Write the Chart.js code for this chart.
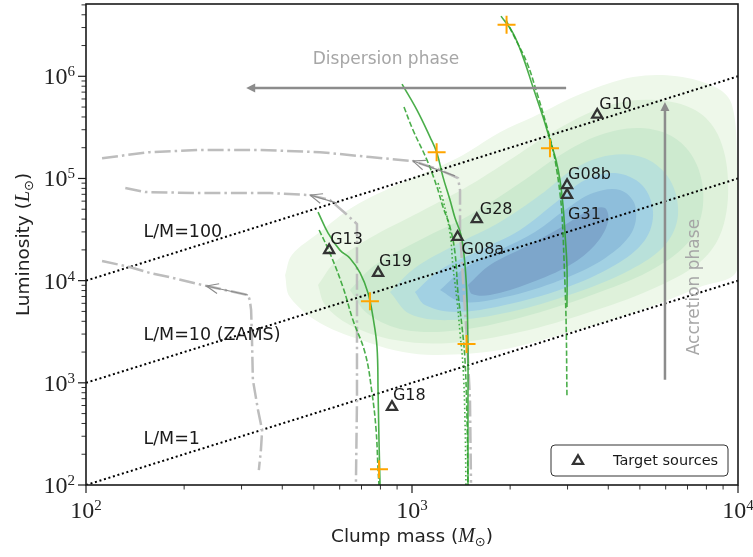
<!DOCTYPE html>
<html>
<head>
<meta charset="utf-8">
<script src="https://cdn.jsdelivr.net/npm/chart.js@4.4.1/dist/chart.umd.min.js"></script>
<style>html,body{margin:0;padding:0;background:#fff;}</style>
</head>
<body>
<canvas id="myChart" width="753" height="557"></canvas>
<script>
// target sources
const sourceNames = ['G10', 'G08b', 'G31', 'G28', 'G08a', 'G13', 'G19', 'G18'];
const sourceMass = [3700, 2990, 2990, 1580, 1380, 557, 787, 868];
const sourceLum = [4.2e5, 8.6e4, 6.9e4, 4.0e4, 2.67e4, 1.99e4, 1.19e4, 580];

// orange crosses on the tracks
const crossMass = [1190, 1950, 2650, 743, 1470, 792];
const crossLum = [1.81e5, 3.2e6, 1.98e5, 6.3e3, 2.4e3, 143];

// L/M = const lines
const lmRatios = [100, 10, 1];
const lmMass = [100, 10000];
const lmText = ['L/M=100', 'L/M=10 (ZAMS)', 'L/M=1'];
const lmTextMass = [150, 150, 150];
const lmTextLum = [2.99e4, 2.94e3, 282];

// green evolutionary tracks [mass, lum]
const track1Solid = [[515,4.69e4],[553,2.92e4],[601,1.99e4],[645,1.66e4],[693,1.19e4],[733,7.56e3],[759,4.41e3],[781,2.24e3],[787,795],[792,276],[798,100]];
const track1Dash = [[519,3.13e4],[560,1.86e4],[614,8.65e3],[659,4.11e3],[718,1.96e3],[754,795],[776,345],[787,140],[792,100]];
const track2Solid = [[932,8.39e5],[1036,4.67e5],[1136,2.54e5],[1193,1.77e5],[1245,1.03e5],[1308,6.15e4],[1355,4.1e4],[1414,2.79e4],[1454,1.42e4],[1475,6.46e3],[1485,2.09e3],[1485,679],[1485,100]];
const track2Dash = [[945,5.0e5],[1007,2.98e5],[1112,1.51e5],[1193,8.24e4],[1245,5.25e4],[1308,3.34e4],[1355,1.86e4],[1384,7.56e3],[1424,3.52e3],[1454,1.67e3],[1475,432],[1485,100]];
const track2Dot = [[1202,9.01e4],[1245,6.15e4],[1308,2.92e4],[1336,1.36e4],[1374,6.46e3],[1404,3.07e3],[1434,1.43e3],[1454,432],[1464,100]];
const track3Solid = [[1875,3.88e6],[2041,2.65e6],[2191,1.54e6],[2350,7.84e5],[2523,3.99e5],[2650,2.38e5],[2766,1.51e5],[2844,9.65e4],[2905,5.49e4],[2946,2.92e4],[2988,1.36e4],[2988,5.52e3]];
const track3Dash = [[1943,3.55e6],[2070,2.36e6],[2254,1.35e6],[2417,6.85e5],[2595,3.19e5],[2707,1.9e5],[2785,1.16e5],[2844,7.19e4],[2885,4.39e4],[2927,1.59e4],[2969,4.11e3],[2988,726]];

// grey dash-dot tracks
const greyTrackA = [[112,1.58e5],[157,1.81e5],[224,1.9e5],[342,1.9e5],[522,1.81e5],[743,1.62e5],[1007,1.48e5],[1219,1.21e5],[1384,1.01e5],[1404,7.7e4],[1404,3.13e4],[1434,1.01e4],[1475,2.62e3],[1506,679],[1517,105]];
const greyTrackB = [[132,8.05e4],[152,7.36e4],[224,7.19e4],[367,7.19e4],[487,6.88e4],[560,6.15e4],[623,4.59e4],[678,3.58e4],[678,6.46e3],[678,679],[673,105]];
const greyTrackC = [[112,1.56e4],[136,1.36e4],[157,1.19e4],[181,1.08e4],[235,8.85e3],[314,7.23e3],[318,6.46e3],[321,5.15e3],[323,2.62e3],[325,1.07e3],[337,542],[347,345],[344,220],[339,140]];
const greyArrows = [[[1355,1.06e5],[1007,1.48e5]], [[589,5.74e4],[487,6.88e4]], [[314,7.23e3],[234,8.85e3]]];

// KDE density contours, outer to inner
const kdeLevel1 = [[408,1.13e4],[428,1.78e4],[522,2.99e4],[659,5.25e4],[939,9.22e4],[1374,1.58e5],[1862,2.84e5],[2350,3.99e5],[3346,6.85e5],[4764,9.82e5],[6501,1.0e6],[8623,7.67e5],[9585,5.23e5],[9929,1.51e5],[9929,1.27e4],[7647,8.65e3],[4764,4.82e3],[2988,3.07e3],[1862,2.09e3],[1193,1.87e3],[939,2.0e3],[743,2.45e3],[522,3.85e3],[422,6.91e3]];
const kdeLevel2 = [[515,9.06e3],[581,1.52e4],[743,2.61e4],[1058,4.69e4],[1506,8.62e4],[2145,1.77e5],[2946,3.33e5],[4050,5.23e5],[5565,5.85e5],[7383,4.67e5],[8684,2.66e5],[9318,9.65e4],[8932,3.13e4],[7647,1.52e4],[5372,8.09e3],[3516,4.93e3],[2145,3.14e3],[1308,2.45e3],[887,2.62e3],[645,3.68e3],[541,5.77e3]];
const kdeLevel3 = [[645,8.09e3],[770,1.42e4],[1058,2.5e4],[1506,4.39e4],[2145,9.01e4],[2844,1.69e5],[3773,2.66e5],[5005,3.11e5],[6409,2.48e5],[7487,1.35e5],[7811,5.49e4],[7127,2.5e4],[5565,1.33e4],[3773,7.73e3],[2301,4.61e3],[1404,3.29e3],[952,3.29e3],[733,4.71e3]];
const kdeLevel4 = [[856,7.73e3],[1021,1.33e4],[1355,2.23e4],[1862,3.74e4],[2470,6.88e4],[3162,1.26e5],[4050,1.69e5],[5185,1.58e5],[6187,9.65e4],[6546,4.39e4],[5972,2.23e4],[4664,1.27e4],[3162,7.56e3],[1998,4.93e3],[1308,4.11e3],[986,4.71e3]];
const kdeLevel5 = [[1021,7.73e3],[1219,1.27e4],[1617,1.99e4],[2145,3.13e4],[2746,5.74e4],[3394,9.65e4],[4196,1.13e5],[5076,8.62e4],[5487,4.69e4],[5185,2.5e4],[4196,1.42e4],[2946,8.47e3],[1929,5.77e3],[1355,4.93e3],[1096,5.77e3]];
const kdeLevel6 = [[1219,8.09e3],[1454,1.33e4],[1862,1.99e4],[2384,2.99e4],[2946,4.91e4],[3591,7.19e4],[4345,7.7e4],[4831,5.49e4],[4730,2.99e4],[3909,1.66e4],[2844,1.01e4],[1929,6.91e3],[1424,6.18e3]];
const kdeLevel7 = [[1485,9.06e3],[1735,1.42e4],[2222,2.13e4],[2844,3.27e4],[3516,4.91e4],[3909,5.13e4],[3993,3.74e4],[3642,2.23e4],[3052,1.42e4],[2301,9.48e3],[1735,7.23e3],[1528,7.39e3]];
const kdeLevels = [kdeLevel1, kdeLevel2, kdeLevel3, kdeLevel4, kdeLevel5, kdeLevel6, kdeLevel7];
const kdeColors = ['#eef8ea', '#def1da', '#cdeacf', '#b9e1da', '#a2d1e3', '#8ebedb', '#7da6cb'];

// phase arrows and labels
const dispersionArrow = [[2970, 7.67e5], [310, 7.67e5]];
const accretionArrow = [[5970, 1.07e3], [5970, 5.6e5]];
const dispersionLabel = [832, 1.47e6];
const accretionLabel = [7380, 8.65e3];

const toXY = arr => arr.map(p => ({x: p[0], y: p[1]}));
const green = 'rgba(44,160,44,0.85)';

const datasets = [];
// triangles on top
datasets.push({
  label: 'Target sources',
  data: sourceMass.map((m, i) => ({x: m, y: sourceLum[i]})),
  pointStyle: 'triangle', pointRadius: 5.8, borderWidth: 2.3,
  borderColor: '#333333', backgroundColor: 'rgba(0,0,0,0)', order: 0
});
datasets.push({
  data: crossMass.map((m, i) => ({x: m, y: crossLum[i]})),
  pointStyle: 'cross', pointRadius: 9, borderWidth: 2,
  borderColor: '#ffa500', order: 1
});
const trackLine = (arr, dash) => ({
  data: toXY(arr), showLine: true, pointRadius: 0, borderColor: green,
  borderWidth: 1.6, borderDash: dash, tension: 0.4, fill: false, order: 2
});
datasets.push(trackLine(track1Solid, []), trackLine(track1Dash, [5.5, 2.4]),
  trackLine(track2Solid, []), trackLine(track2Dash, [5.5, 2.4]), trackLine(track2Dot, [1.6, 2.6]),
  trackLine(track3Solid, []), trackLine(track3Dash, [5.5, 2.4]));
[greyTrackA, greyTrackB, greyTrackC].forEach(t => datasets.push({
  data: toXY(t), showLine: true, pointRadius: 0, borderColor: '#bdbdbd',
  borderWidth: 2.5, borderDash: [16, 4, 2.5, 4], tension: 0, fill: false, order: 3
}));
lmRatios.forEach(r => datasets.push({
  data: lmMass.map(m => ({x: m, y: m * r})), showLine: true, pointRadius: 0,
  borderColor: '#000', borderWidth: 2, borderDash: [2, 2.7], fill: false, order: 4
}));
kdeLevels.forEach((lvl, i) => datasets.push({
  data: toXY(lvl.concat([lvl[0]])), showLine: true, pointRadius: 0,
  borderWidth: 0, borderColor: kdeColors[i], backgroundColor: kdeColors[i],
  fill: 'shape', tension: 0.35, order: 30 - i
}));

function arrowHead(ctx, x0, y0, x1, y1, len, half, filled) {
  const ang = Math.atan2(y1 - y0, x1 - x0);
  const bx = x1 - Math.cos(ang) * len, by = y1 - Math.sin(ang) * len;
  const nx = -Math.sin(ang) * half, ny = Math.cos(ang) * half;
  ctx.beginPath();
  ctx.moveTo(bx + nx, by + ny);
  ctx.lineTo(x1, y1);
  ctx.lineTo(bx - nx, by - ny);
  if (filled) { ctx.closePath(); ctx.fill(); } else ctx.stroke();
}

function drawParts(ctx, parts, x, y, align) {
  let w = 0;
  parts.forEach(p => { ctx.font = p.font; w += ctx.measureText(p.t).width; });
  let cx = align === 'center' ? x - w / 2 : (align === 'right' ? x - w : x);
  ctx.textAlign = 'left';
  parts.forEach(p => {
    ctx.font = p.font;
    ctx.fillText(p.t, cx, y + (p.dy || 0));
    cx += ctx.measureText(p.t).width;
  });
}

const labelOffsets = {G10: [2, -10], G08b: [1, -10], G31: [1, 20], G28: [3, -9], G08a: [4, 13], G13: [1, -10], G19: [1, -11], G18: [1, -11]};

const overlay = {
  id: 'overlay',
  afterDatasetsDraw(chart) {
    const {ctx, chartArea: a} = chart;
    const xs = chart.scales.x, ys = chart.scales.y;
    const px = v => xs.getPixelForValue(v), py = v => ys.getPixelForValue(v);
    ctx.save();
    ctx.beginPath(); ctx.rect(a.left, a.top, a.right - a.left, a.bottom - a.top); ctx.clip();

    // small arrows on grey tracks
    ctx.strokeStyle = '#8a8a8a'; ctx.lineWidth = 1.1;
    greyArrows.forEach(([t, h]) => {
      const x0 = px(t[0]), y0 = py(t[1]), x1 = px(h[0]), y1 = py(h[1]);
      ctx.beginPath(); ctx.moveTo(x0, y0); ctx.lineTo(x1, y1); ctx.stroke();
      arrowHead(ctx, x0, y0, x1, y1, 12, 5, false);
    });

    // phase arrows
    ctx.strokeStyle = '#8c8c8c'; ctx.fillStyle = '#8c8c8c'; ctx.lineWidth = 2.5;
    [dispersionArrow, accretionArrow].forEach(([t, h]) => {
      const x0 = px(t[0]), y0 = py(t[1]), x1 = px(h[0]), y1 = py(h[1]);
      const ang = Math.atan2(y1 - y0, x1 - x0);
      ctx.beginPath(); ctx.moveTo(x0, y0); ctx.lineTo(x1 - Math.cos(ang) * 6, y1 - Math.sin(ang) * 6); ctx.stroke();
      arrowHead(ctx, x0, y0, x1, y1, 9, 4.5, true);
    });
    ctx.fillStyle = '#a6a6a6';
    ctx.font = '17px "DejaVu Sans"'; ctx.textAlign = 'center'; ctx.textBaseline = 'middle';
    ctx.fillText('Dispersion phase', px(dispersionLabel[0]), py(dispersionLabel[1]));
    ctx.save();
    ctx.translate(px(accretionLabel[0]), py(accretionLabel[1]));
    ctx.rotate(-Math.PI / 2);
    ctx.fillText('Accretion phase', 0, 0);
    ctx.restore();

    // L/M labels
    ctx.fillStyle = '#1a1a1a'; ctx.font = '17.5px "DejaVu Sans"'; ctx.textAlign = 'left';
    lmText.forEach((t, i) => ctx.fillText(t, px(lmTextMass[i]), py(lmTextLum[i])));

    // source labels
    ctx.font = '16px "DejaVu Sans"';
    sourceNames.forEach((n, i) => {
      const o = labelOffsets[n];
      ctx.fillText(n, px(sourceMass[i]) + o[0], py(sourceLum[i]) + o[1]);
    });
    ctx.restore();

    // frame
    ctx.save();
    ctx.strokeStyle = '#1a1a1a'; ctx.lineWidth = 1.6;
    ctx.strokeRect(a.left, a.top, a.right - a.left, a.bottom - a.top);

    // ticks
    ctx.strokeStyle = '#1a1a1a';
    for (let d = 2; d <= 4; d++) {
      for (let k = 1; k <= 9; k++) {
        const v = k * Math.pow(10, d);
        if (v > xs.max * 1.0001) break;
        const x = px(v);
        ctx.lineWidth = k === 1 ? 1.2 : 0.9;
        ctx.beginPath(); ctx.moveTo(x, a.bottom); ctx.lineTo(x, a.bottom + (k === 1 ? 8 : 4.5)); ctx.stroke();
      }
    }
    for (let d = 2; d <= 6; d++) {
      for (let k = 1; k <= 9; k++) {
        const v = k * Math.pow(10, d);
        if (v > ys.max) break;
        const y = py(v);
        ctx.lineWidth = k === 1 ? 1.2 : 0.9;
        ctx.beginPath(); ctx.moveTo(a.left, y); ctx.lineTo(a.left - (k === 1 ? 8 : 4.5), y); ctx.stroke();
      }
    }
    // tick labels
    ctx.fillStyle = '#222'; ctx.textBaseline = 'alphabetic';
    const base = '24px "Liberation Serif"', sup = '15px "Liberation Serif"';
    for (let d = 2; d <= 4; d++) {
      drawParts(ctx, [{t: '10', font: base}, {t: String(d), font: sup, dy: -8}], px(Math.pow(10, d)), a.bottom + 33, 'center');
    }
    for (let d = 2; d <= 6; d++) {
      drawParts(ctx, [{t: '10', font: base}, {t: String(d), font: sup, dy: -8}], a.left - 11, py(Math.pow(10, d)) + 8, 'right');
    }
    // axis titles
    const tf = '18.5px "DejaVu Sans"', it = 'italic 20px "Liberation Serif"', sb = '13px "DejaVu Sans"';
    drawParts(ctx, [{t: 'Clump mass (', font: tf}, {t: 'M', font: it}, {t: '\u2299', font: sb, dy: 4}, {t: ')', font: tf}],
      (a.left + a.right) / 2, 542, 'center');
    ctx.save();
    ctx.translate(29, (a.top + a.bottom) / 2);
    ctx.rotate(-Math.PI / 2);
    drawParts(ctx, [{t: 'Luminosity (', font: tf}, {t: 'L', font: it}, {t: '\u2299', font: sb, dy: 4}, {t: ')', font: tf}], 0, 0, 'center');
    ctx.restore();

    // legend
    const lx = a.right - 187, ly = a.bottom - 40, lw = 177, lh = 31;
    ctx.fillStyle = 'rgba(255,255,255,0.85)'; ctx.strokeStyle = '#333'; ctx.lineWidth = 1;
    ctx.beginPath(); ctx.roundRect(lx, ly, lw, lh, 4); ctx.fill(); ctx.stroke();
    ctx.strokeStyle = '#333333'; ctx.lineWidth = 2.3;
    const r = 5.8, tx = lx + 27, ty = ly + 16;
    ctx.beginPath();
    ctx.moveTo(tx, ty - r);
    ctx.lineTo(tx + r * Math.sin(2 * Math.PI / 3), ty - r * Math.cos(2 * Math.PI / 3));
    ctx.lineTo(tx + r * Math.sin(4 * Math.PI / 3), ty - r * Math.cos(4 * Math.PI / 3));
    ctx.closePath(); ctx.stroke();
    ctx.fillStyle = '#1a1a1a'; ctx.font = '14.5px "DejaVu Sans"'; ctx.textBaseline = 'middle'; ctx.textAlign = 'left';
    ctx.fillText('Target sources', lx + 62, ty);
    ctx.restore();
  }
};

new Chart(document.getElementById('myChart'), {
  type: 'scatter',
  data: {datasets: datasets},
  options: {
    responsive: false,
    animation: false,
    devicePixelRatio: 1,
    layout: {autoPadding: false, padding: {left: 86, right: 15, top: 4, bottom: 72}},
    plugins: {legend: {display: false}, tooltip: {enabled: false}},
    scales: {
      x: {type: 'logarithmic', min: 100, max: 10000, display: false},
      y: {type: 'logarithmic', min: 100, max: 5.1e6, display: false}
    }
  },
  plugins: [overlay]
});
</script>
</body>
</html>
